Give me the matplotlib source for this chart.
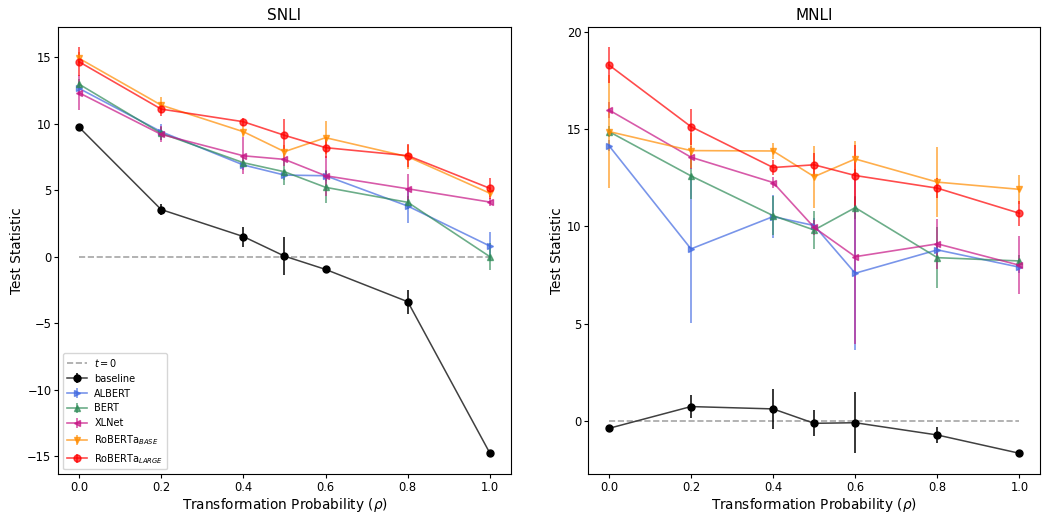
import matplotlib.pyplot as plt

rho = [0.0, 0.2, 0.4, 0.5, 0.6, 0.8, 1.0]
models = ['baseline', 'ALBERT', 'BERT', 'XLNet', 'RoBERTa$_{BASE}$', 'RoBERTa$_{LARGE}$']

# SNLI test statistics and their error bars
snli_mean = {
    'baseline': [9.75, 3.55, 1.52, 0.05, -0.95, -3.38, -14.78],
    'ALBERT': [12.66, 9.4, 6.9, 6.14, 6.09, 3.81, 0.8],
    'BERT': [12.98, 9.28, 7.07, 6.39, 5.22, 4.09, 0.0],
    'XLNet': [12.33, 9.2, 7.59, 7.32, 6.09, 5.11, 4.11],
    'RoBERTa$_{BASE}$': [14.92, 11.4, 9.4, 7.9, 8.95, 7.52, 4.77],
    'RoBERTa$_{LARGE}$': [14.66, 11.1, 10.15, 9.13, 8.2, 7.6, 5.14],
}
snli_err = {
    'baseline': [0.1, 0.4, 0.75, 1.4, 0.2, 0.9, 0.1],
    'ALBERT': [0.5, 0.6, 0.4, 0.4, 0.4, 1.25, 1.05],
    'BERT': [0.4, 0.5, 0.4, 1.0, 1.2, 0.5, 1.0],
    'XLNet': [1.3, 0.6, 1.4, 0.5, 1.5, 1.1, 0.3],
    'RoBERTa$_{BASE}$': [0.5, 0.6, 0.4, 0.5, 1.25, 0.9, 0.3],
    'RoBERTa$_{LARGE}$': [1.1, 0.5, 0.3, 1.25, 0.8, 0.85, 0.8],
}

# MNLI test statistics and their error bars
mnli_mean = {
    'baseline': [-0.38, 0.74, 0.62, -0.12, -0.09, -0.72, -1.66],
    'ALBERT': [14.15, 8.84, 10.5, 10.04, 7.59, 8.79, 7.9],
    'BERT': [14.87, 12.59, 10.55, 9.81, 10.96, 8.39, 8.22],
    'XLNet': [15.98, 13.55, 12.25, 9.94, 8.44, 9.1, 8.0],
    'RoBERTa$_{BASE}$': [14.87, 13.89, 13.87, 12.55, 13.46, 12.27, 11.9],
    'RoBERTa$_{LARGE}$': [18.29, 15.12, 13.02, 13.16, 12.61, 11.96, 10.67],
}
mnli_err = {
    'baseline': [0.1, 0.58, 1.03, 0.66, 1.56, 0.41, 0.1],
    'ALBERT': [0.3, 3.8, 1.1, 0.4, 3.94, 0.4, 0.3],
    'BERT': [0.3, 1.2, 1.0, 0.98, 0.6, 1.58, 0.3],
    'XLNet': [0.4, 0.6, 0.3, 0.4, 4.5, 1.28, 1.5],
    'RoBERTa$_{BASE}$': [2.9, 0.9, 0.4, 1.6, 0.9, 1.78, 0.75],
    'RoBERTa$_{LARGE}$': [0.92, 0.92, 0.4, 0.6, 1.58, 0.5, 0.64],
}

colors = {'baseline': 'black', 'ALBERT': 'royalblue', 'BERT': 'seagreen',
          'XLNet': 'mediumvioletred', 'RoBERTa$_{BASE}$': 'darkorange',
          'RoBERTa$_{LARGE}$': 'red'}
markers = {'baseline': 'o', 'ALBERT': '>', 'BERT': '^', 'XLNet': '<',
           'RoBERTa$_{BASE}$': 'v', 'RoBERTa$_{LARGE}$': 'o'}

fig = plt.figure(figsize=(10.42, 5.15), dpi=100)
ax1 = fig.add_axes([0.056, 0.079, 0.434, 0.8686])
ax2 = fig.add_axes([0.5646, 0.079, 0.4335, 0.8686])

for ax, means, errs, title, ylim in [(ax1, snli_mean, snli_err, 'SNLI', (-16.35, 17.27)),
                                     (ax2, mnli_mean, mnli_err, 'MNLI', (-2.74, 20.24))]:
    ax.plot([0, 1], [0, 0], '--', color='grey', alpha=0.7, lw=1.2, label='$t = 0$')
    for m in models:
        if m == 'baseline':
            ax.errorbar(rho, means[m], yerr=errs[m], color='0.25', ecolor='k',
                        marker='o', mfc='k', mec='k', markersize=5, lw=1.1, label=m)
        else:
            ax.errorbar(rho, means[m], yerr=errs[m], color=colors[m], marker=markers[m],
                        markersize=5, lw=1.2, alpha=0.7, label=m)
    ax.set_title(title, fontsize=11, pad=5)
    ax.set_xlabel('Transformation Probability ($\\rho$)', fontsize=9.8, labelpad=1)
    ax.set_ylabel('Test Statistic', fontsize=9.8, labelpad=2)
    ax.set_xlim(-0.05, 1.05)
    ax.set_ylim(*ylim)
    ax.tick_params(labelsize=8.3, length=3, pad=2)

ax1.legend(loc='lower left', fontsize=7)

plt.savefig('out.png')
